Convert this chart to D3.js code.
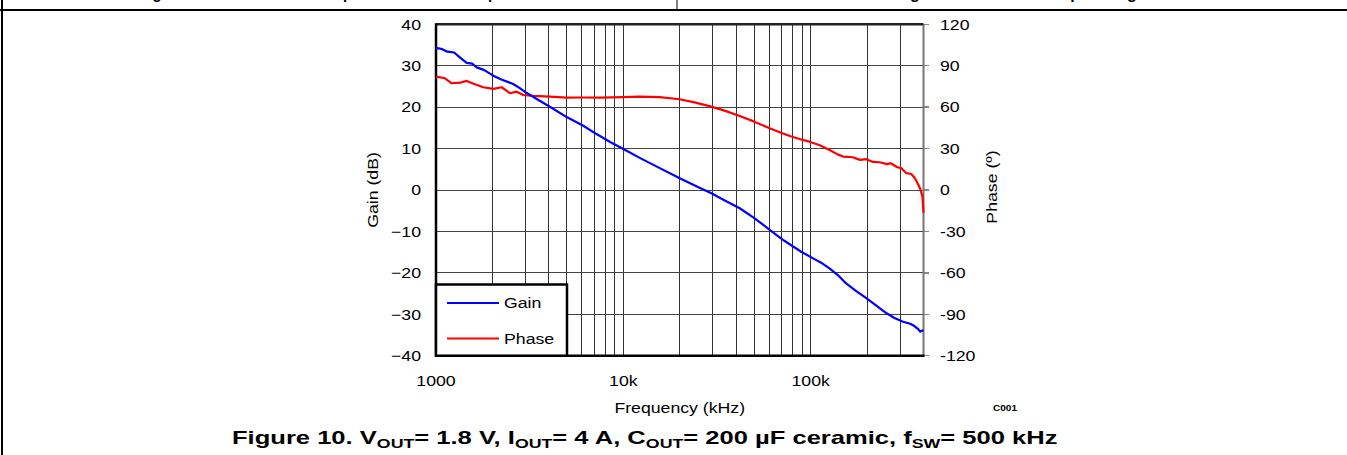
<!DOCTYPE html>
<html>
<head>
<meta charset="utf-8">
<script src="https://cdn.jsdelivr.net/npm/d3@7"></script>
<style>
  body { margin: 0; background: #fff; }
  text { font-family: "Liberation Sans", Arial, sans-serif; fill: #000; }
</style>
</head>
<body>
<div id="chart"></div>
<script>
// Bode plot data
var gainFreq = [1000, 1080, 1150, 1250, 1350, 1458, 1560, 1649, 1800, 2022, 2250, 2583, 2800, 2985, 3500, 4054, 4985, 6111, 7193, 8500,
  10000, 12300, 15000, 20000, 25000, 29500, 35000, 41800, 50000, 60400, 72000, 89000, 103000, 115000, 126000, 140000, 154000,
  175000, 198000, 225000, 253000, 280000, 311000, 340000, 359000, 375000, 385000, 395000, 400000];
var gainDb = [34.3, 34.0, 33.4, 33.2, 31.9, 30.7, 30.5, 29.6, 29.0, 27.6, 26.6, 25.6, 24.6, 23.7, 21.8, 20.1, 17.6, 15.5, 13.5, 11.6,
  9.9, 7.7, 5.7, 2.85, 0.7, -0.8, -2.6, -4.4, -6.8, -9.6, -12.2, -14.9, -16.5, -17.7, -18.9, -20.6, -22.5,
  -24.4, -26.1, -28.0, -29.7, -30.9, -31.8, -32.3, -32.9, -33.6, -34.2, -33.9, -34.0];

var phaseFreq = [1000, 1117, 1212, 1343, 1458, 1600, 1788, 2022, 2242, 2481, 2694, 2925, 3300, 4054, 4985, 6000, 7500, 10000, 12300,
  15600, 20000, 24000, 29500, 35000, 41800, 50000, 60400, 70000, 78700, 89000, 98500, 111000, 126000, 140000, 149000, 168000,
  183000, 198000, 215000, 233000, 256000, 267000, 290000, 305000, 324000, 344000, 360000, 372000, 385000, 395000, 400000];
var phaseDeg = [82.1, 80.9, 77.3, 77.7, 79.0, 76.8, 74.4, 73.2, 74.4, 70.1, 71.2, 68.8, 68.2, 67.6, 66.9, 67.0, 66.9, 67.3, 67.6,
  67.2, 65.7, 63.5, 60.4, 57.3, 53.6, 49.5, 44.7, 41.3, 38.7, 36.6, 35.0, 32.6, 29.0, 25.6, 24.2, 23.7,
  21.8, 22.3, 20.3, 20.1, 18.7, 19.4, 16.5, 15.8, 12.2, 11.6, 8.5, 4.9, 0.5, -4.8, -16.5];

var gainTicks = [-40, -30, -20, -10, 0, 10, 20, 30, 40];
var phaseTicks = [-120, -90, -60, -30, 0, 30, 60, 90, 120];
var freqTicks = [1000, 10000, 100000];
var freqLabels = ["1000", "10k", "100k"];

var width = 1347, height = 455;
var plotLeft = 436, plotTop = 24.3, plotRight = 923.5, plotBottom = 355.7;
var sx = 1.18; // the source font runs a bit wider than Arial

var svg = d3.select("#chart").append("svg")
  .attr("width", width)
  .attr("height", height);

// text placed with a horizontal stretch around its anchor point
function label(x, y, str, size, anchor, rot) {
  return svg.append("text")
    .attr("transform", "translate(" + x + "," + y + ")" + (rot ? " rotate(" + rot + ")" : "") + " scale(" + sx + ",1)")
    .attr("text-anchor", anchor || "start")
    .style("font-size", size + "px")
    .text(str);
}

// page frame around the figure (datasheet table cells)
svg.append("line").attr("x1", 2).attr("x2", 2).attr("y1", 0).attr("y2", height)
  .attr("stroke", "#000").attr("stroke-width", 2);
svg.append("line").attr("x1", 0).attr("x2", width).attr("y1", 10).attr("y2", 10)
  .attr("stroke", "#000").attr("stroke-width", 2);
svg.append("line").attr("x1", 677).attr("x2", 677).attr("y1", 0).attr("y2", 10)
  .attr("stroke", "#000").attr("stroke-width", 1);

// captions of the figures above, cut off at the top: only descenders show.
// stretch each so that its first and last descender land where the source has them
function cutCaption(str, i0, i1, x0, x1) {
  var t = svg.append("text")
    .style("font-size", "17px").style("font-weight", "bold")
    .text(str);
  var n = t.node();
  var e0 = n.getExtentOfChar(i0), e1 = n.getExtentOfChar(i1);
  var c0 = e0.x + e0.width / 2, c1 = e1.x + e1.width / 2;
  var s = (x1 - x0) / (c1 - c0);
  t.attr("transform", "translate(" + (x0 - s * c0) + ",-1) scale(" + s + ",1)");
}
var capLeft = "Figure 8. Load Transient Response with Load Step";
var capRight = "Figure 9. Enable Startup Timing";
cutCaption(capLeft, capLeft.indexOf("g"), capLeft.lastIndexOf("p"), 157, 493);
cutCaption(capRight, capRight.indexOf("g"), capRight.lastIndexOf("g"), 915, 1132);

var x = d3.scaleLog().domain([1000, 400000]).range([plotLeft, plotRight]);
var y = d3.scaleLinear().domain([-40, 40]).range([plotBottom, plotTop]);
var y2 = d3.scaleLinear().domain([-120, 120]).range([plotBottom, plotTop]);

// grid
var grid = svg.append("g").attr("shape-rendering", "crispEdges");
grid.selectAll(".vgrid")
  .data(x.ticks().filter(function(d) { return d > 1000 && d < 400000; }))
  .enter().append("line")
  .attr("x1", function(d) { return x(d); })
  .attr("x2", function(d) { return x(d); })
  .attr("y1", plotTop).attr("y2", plotBottom)
  .attr("stroke", "#333").attr("stroke-width", 1);
grid.selectAll(".hgrid")
  .data(gainTicks.slice(1, -1))
  .enter().append("line")
  .attr("x1", plotLeft).attr("x2", plotRight)
  .attr("y1", function(d) { return y(d); })
  .attr("y2", function(d) { return y(d); })
  .attr("stroke", "#444").attr("stroke-width", 1);

// right axis tick marks
grid.selectAll(".rtick")
  .data(phaseTicks)
  .enter().append("line")
  .attr("x1", plotRight).attr("x2", plotRight + 5)
  .attr("y1", function(d) { return y2(d); })
  .attr("y2", function(d) { return y2(d); })
  .attr("stroke", "#888").attr("stroke-width", 1.5);

// frame
svg.append("line").attr("x1", plotRight).attr("x2", plotRight).attr("y1", plotTop).attr("y2", plotBottom)
  .attr("stroke", "#777").attr("stroke-width", 2);
svg.append("line").attr("x1", plotLeft).attr("x2", plotRight).attr("y1", plotTop).attr("y2", plotTop)
  .attr("stroke", "#222").attr("stroke-width", 2.5);
svg.append("line").attr("x1", plotLeft).attr("x2", plotRight + 1).attr("y1", plotBottom).attr("y2", plotBottom)
  .attr("stroke", "#000").attr("stroke-width", 2.5);
svg.append("line").attr("x1", plotLeft).attr("x2", plotLeft).attr("y1", plotTop - 1).attr("y2", plotBottom + 1)
  .attr("stroke", "#000").attr("stroke-width", 2.5);

// curves
var gainLine = d3.line()
  .x(function(d, i) { return x(gainFreq[i]); })
  .y(function(d) { return y(d); });
var phaseLine = d3.line()
  .x(function(d, i) { return x(phaseFreq[i]); })
  .y(function(d) { return y2(d); });

svg.append("path").datum(phaseDeg)
  .attr("d", phaseLine)
  .attr("fill", "none").attr("stroke", "#ff0000").attr("stroke-width", 2.2)
  .attr("stroke-linejoin", "round");
svg.append("path").datum(gainDb)
  .attr("d", gainLine)
  .attr("fill", "none").attr("stroke", "#0000ff").attr("stroke-width", 2.2)
  .attr("stroke-linejoin", "round");

// tick labels
gainTicks.forEach(function(d) {
  label(421, y(d), d < 0 ? "\u2212" + Math.abs(d) : String(d), 15, "end").attr("dy", "0.35em");
});
phaseTicks.forEach(function(d) {
  label(940, y2(d), String(d), 15, "start").attr("dy", "0.35em");
});
freqTicks.forEach(function(d, i) {
  label(x(d), 386, freqLabels[i], 15, "middle");
});

// axis titles
label((plotLeft + plotRight) / 2, 413, "Frequency (kHz)", 15, "middle");
label(378, (plotTop + plotBottom) / 2, "Gain (dB)", 15, "middle", -90);
label(997, (plotTop + plotBottom) / 2 - 3, "Phase (\u00ba)", 15, "middle", -90);
label(1017, 411, "C001", 8.5, "end").style("font-weight", "bold");

// legend
var lg = svg.append("g");
lg.append("rect")
  .attr("x", plotLeft).attr("y", 284.5)
  .attr("width", 567 - plotLeft).attr("height", plotBottom - 284.5)
  .attr("fill", "#fff").attr("stroke", "#000").attr("stroke-width", 2.5);
var legendItems = [{ name: "Gain", color: "#0000ff", yy: 303 }, { name: "Phase", color: "#ff0000", yy: 338.5 }];
legendItems.forEach(function(d) {
  lg.append("line").attr("x1", 447).attr("x2", 499).attr("y1", d.yy).attr("y2", d.yy)
    .attr("stroke", d.color).attr("stroke-width", 2);
  label(504, d.yy, d.name, 15, "start").attr("dy", "0.35em");
});

// figure caption, stretched to the width it has in the source
var cap = svg.append("text")
  .attr("text-anchor", "start")
  .style("font-size", "18px").style("font-weight", "bold");
var parts = [["Figure 10. V", ""], ["OUT", "sub"], ["= 1.8 V, I", ""], ["OUT", "sub"], ["= 4 A, C", ""], ["OUT", "sub"],
  ["= 200 \u00b5F ceramic, f", ""], ["SW", "sub"], ["= 500 kHz", ""]];
parts.forEach(function(p, i) {
  var t = cap.append("tspan").text(p[0]);
  if (p[1] === "sub") t.style("font-size", "12.5px").attr("dy", 4);
  else if (i > 0) t.attr("dy", -4);
});
var capW = cap.node().getComputedTextLength();
cap.attr("transform", "translate(232,444) scale(" + (826 / capW) + ",1)");
</script>
</body>
</html>
